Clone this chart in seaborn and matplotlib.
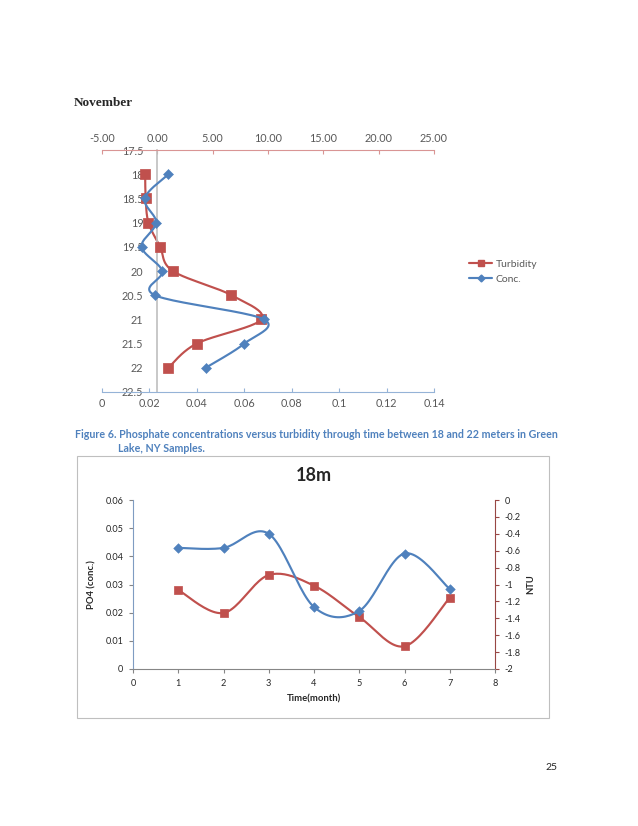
import matplotlib
matplotlib.use('Agg')
import matplotlib.pyplot as plt
from matplotlib.lines import Line2D
from matplotlib.patches import Rectangle
import numpy as np
import seaborn as sns

sns.set_style('white')
plt.rcParams['font.family'] = ['Lato', 'DejaVu Sans']

# ---- data: November profile (top chart)
depth = [18, 18.5, 19, 19.5, 20, 20.5, 21, 21.5, 22]
turbidity = [-1.1, -1.05, -0.8, 0.25, 1.4, 6.7, 9.4, 3.55, 1.0]
conc = [0.028, 0.018, 0.0228, 0.0167, 0.0254, 0.0223, 0.0683, 0.060, 0.0437]
depth_ticks = [17.5, 18, 18.5, 19, 19.5, 20, 20.5, 21, 21.5, 22, 22.5]
turb_ticks = [-5, 0, 5, 10, 15, 20, 25]
conc_ticks = [0, 0.02, 0.04, 0.06, 0.08, 0.1, 0.12, 0.14]

# ---- data: 18m time series (bottom chart)
month = [1, 2, 3, 4, 5, 6, 7]
po4 = [0.043, 0.043, 0.048, 0.022, 0.0206, 0.041, 0.0284]
ntu = [-1.065, -1.337, -0.888, -1.014, -1.385, -1.731, -1.156]
po4_ticks = [0, 0.01, 0.02, 0.03, 0.04, 0.05, 0.06]
ntu_ticks = [-2, -1.8, -1.6, -1.4, -1.2, -1, -0.8, -0.6, -0.4, -0.2, 0]

BLUE = '#4F81BD'
RED = '#C0504D'
GREY = '#595959'
LW = 1.55


def smooth(xs, ys, n=24):
    # Excel style smoothed line (Catmull-Rom through the points)
    p = np.column_stack([xs, ys]).astype(float)
    out = []
    for i in range(len(p) - 1):
        p0 = p[i - 1] if i > 0 else p[i]
        p1, p2 = p[i], p[i + 1]
        p3 = p[i + 2] if i + 2 < len(p) else p[i + 1]
        c1 = p1 + (p2 - p0) / 6
        c2 = p2 - (p3 - p1) / 6
        t = np.linspace(0, 1, n)[:, None]
        seg = ((1 - t) ** 3) * p1 + 3 * ((1 - t) ** 2) * t * c1 + 3 * (1 - t) * t ** 2 * c2 + t ** 3 * p2
        out.append(seg if i == 0 else seg[1:])
    out = np.vstack(out)
    return out[:, 0], out[:, 1]


fig = plt.figure(figsize=(6.38, 8.26), dpi=100)
W, H = 638, 826


def fx(px):
    return px / W


def fy(py):
    return 1 - py / H


fig.text(fx(74), fy(103), 'November', family='Liberation Serif', fontweight='bold',
         fontsize=9.5, ha='left', va='center')

# top chart: turbidity on top axis, conc on bottom axis
ax = fig.add_axes([fx(102), fy(392), 332 / W, 242 / H])
axb = ax.twiny()

sx, sy = smooth(turbidity, depth)
sns.lineplot(x=sx, y=sy, sort=False, color=RED, lw=LW, ax=ax, legend=False)
sns.scatterplot(x=turbidity, y=depth, marker='s', s=42, color=RED, edgecolor=RED, ax=ax, zorder=3)
ax.set_xlim(-5, 25)
ax.set_ylim(22.5, 17.5)
ax.set_xticks(turb_ticks)
ax.set_xticklabels(['%.2f' % v for v in turb_ticks])
ax.set_yticks(depth_ticks)
ax.set_yticklabels(['%g' % v for v in depth_ticks])
ax.set_xlabel('')
ax.set_ylabel('')

bx, by = smooth(conc, depth)
sns.lineplot(x=bx, y=by, sort=False, color=BLUE, lw=LW, ax=axb, legend=False)
sns.scatterplot(x=conc, y=depth, marker='D', s=26, color=BLUE, edgecolor=BLUE, ax=axb, zorder=3)
axb.set_xlim(0, 0.14)
axb.set_ylim(22.5, 17.5)
axb.set_xticks(conc_ticks)
axb.set_xticklabels(['%g' % v for v in conc_ticks])
axb.set_xlabel('')
axb.set_ylabel('')

# twiny moves things around, so place the axes afterwards
ax.xaxis.set_ticks_position('top')
ax.xaxis.set_label_position('top')
ax.tick_params(axis='x', which='both', top=True, bottom=False, labeltop=True, labelbottom=False,
               direction='in', length=3, color='#D99594', labelsize=7.8, labelcolor=GREY, pad=4)
ax.tick_params(axis='y', left=True, direction='out', length=0, labelsize=7.8,
               labelcolor=GREY, pad=10)
for s in ['right', 'bottom']:
    ax.spines[s].set_visible(False)
ax.spines['top'].set_color('#D99594')
ax.spines['left'].set_position(('data', 0))
ax.spines['left'].set_color('#BFBFBF')
ax.spines['left'].set_linewidth(1.2)

axb.xaxis.set_ticks_position('bottom')
axb.xaxis.set_label_position('bottom')
axb.tick_params(axis='x', bottom=True, top=False, labelbottom=True, labeltop=False,
                direction='in', length=3, color='#95B3D7',
                labelsize=7.8, labelcolor=GREY, pad=4)
for s in ['right', 'top', 'left']:
    axb.spines[s].set_visible(False)
axb.spines['bottom'].set_visible(True)
axb.spines['bottom'].set_color('#95B3D7')

handles = [Line2D([], [], color=RED, lw=LW, marker='s', ms=5),
           Line2D([], [], color=BLUE, lw=LW, marker='D', ms=3.5)]
fig.legend(handles, ['Turbidity', 'Conc.'], loc='upper left', bbox_to_anchor=(fx(460), fy(250)),
           frameon=False, fontsize=7.5, handlelength=2.2, labelspacing=0.55, handletextpad=0.3,
           labelcolor=GREY)

# caption
CAP = '#4F81BD'
fig.text(fx(75), fy(435), 'Figure 6. Phosphate concentrations versus turbidity through time between 18 and 22 meters in Green',
         color=CAP, fontweight='bold', fontsize=7.65, ha='left', va='center')
fig.text(fx(118), fy(449), 'Lake, NY Samples.', color=CAP, fontweight='bold', fontsize=7.65,
         ha='left', va='center')

# chart frame
fig.patches.append(Rectangle((fx(77), fy(718)), 472 / W, 262 / H, transform=fig.transFigure,
                             fill=False, edgecolor='#BFBFBF', lw=0.8))

# bottom chart
ax2 = fig.add_axes([fx(133), fy(669), 362 / W, 169 / H])
mx, my = smooth(month, po4)
sns.lineplot(x=mx, y=my, sort=False, color=BLUE, lw=LW, ax=ax2, legend=False)
sns.scatterplot(x=month, y=po4, marker='D', s=24, color=BLUE, edgecolor=BLUE, ax=ax2, zorder=4)
ax2.set_xlim(0, 8)
ax2.set_ylim(0, 0.06)
ax2.set_xticks(range(0, 9))
ax2.set_yticks(po4_ticks)
ax2.set_yticklabels(['%g' % v for v in po4_ticks])
ax2.tick_params(axis='both', direction='out', length=3, color='#868686', labelsize=6.6,
                labelcolor='#262626', left=True, bottom=True, pad=4)
ax2.spines['left'].set_color('#7F9CC2')
ax2.spines['bottom'].set_color('#868686')
ax2.spines['top'].set_visible(False)
ax2.spines['right'].set_visible(False)
ax2.set_xlabel('Time(month)', fontsize=6.8, fontweight='bold', labelpad=5)
ax2.set_ylabel('PO4 (conc.)', fontsize=6.8, fontweight='bold', labelpad=6)
ax2.set_title('18m', fontsize=13, fontweight='bold', pad=14)

ax3 = ax2.twinx()
rx, ry = smooth(month, ntu)
sns.lineplot(x=rx, y=ry, sort=False, color=RED, lw=LW, ax=ax3, legend=False)
sns.scatterplot(x=month, y=ntu, marker='s', s=40, color=RED, edgecolor=RED, ax=ax3, zorder=3)
ax3.set_ylim(-2, 0)
ax3.set_yticks(ntu_ticks)
ax3.set_yticklabels(['%g' % v for v in ntu_ticks])
ax3.tick_params(axis='y', direction='out', length=3, color='#984744', labelsize=6.6,
                labelcolor='#262626', right=True, pad=4)
for s in ['left', 'top', 'bottom']:
    ax3.spines[s].set_visible(False)
ax3.spines['right'].set_color('#984744')
ax3.set_ylabel('NTU', fontsize=6.8, fontweight='bold', labelpad=4)
ax3.set_xlabel('')
ax2.set_zorder(ax3.get_zorder() + 1)
ax2.patch.set_visible(False)

fig.text(fx(551), fy(768), '25', fontsize=7.5, ha='center', va='center', color='#262626')

fig.savefig('out.png', dpi=100)
